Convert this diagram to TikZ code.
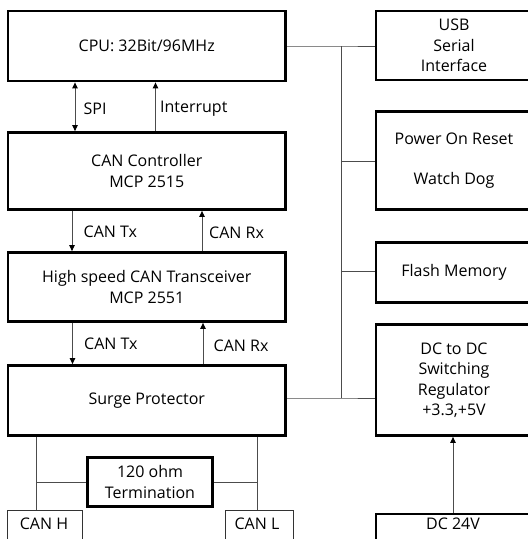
\documentclass[tikz,border=0pt]{standalone}
\usepackage{fontspec}
\setmainfont{Open Sans}
\usetikzlibrary{arrows.meta}
\begin{document}
\begin{tikzpicture}[x=1pt,y=-1pt,
  every node/.style={font=\fontsize{16}{20.5}\selectfont, text=black},
  thickbox/.style={draw=black, line width=2.8pt, align=center, inner sep=0pt},
  thinbox/.style={draw=black!80, line width=1pt, inner sep=0pt},
  txt/.style={inner sep=0pt, align=center},
  lbl/.style={inner sep=0pt, anchor=west},
  wire/.style={draw=black!70, line width=1pt},
  tip/.style={Triangle[length=6pt,width=5.5pt,color=black]},
  arr/.style={wire, -{Triangle[length=6pt,width=5.5pt,color=black]}},
  darr/.style={wire, {Triangle[length=6pt,width=5.5pt,color=black]}-{Triangle[length=6pt,width=5.5pt,color=black]}}
]
\useasboundingbox (0,0) rectangle (528,539);
\begin{scope}
\clip (0,0) rectangle (528,539);
% left column
\node[thickbox, minimum width=277.5, minimum height=70] (cpu) at (146.75,46) {CPU: 32Bit/96MHz};
\node[thickbox, minimum width=277.5, minimum height=77] (ctrl) at (146.75,171) {CAN Controller\\MCP 2515};
\node[thickbox, minimum width=277.5, minimum height=69] (xcvr) at (146.75,287) {High speed CAN Transceiver\\MCP 2551};
\node[thickbox, minimum width=277.5, minimum height=70] (surge) at (146.75,400.5) {Surge Protector};
\node[thickbox, minimum width=125, minimum height=49.5] (ohm) at (150,482) {120 ohm\\Termination};
\node[thinbox, minimum width=74.3, minimum height=40, anchor=north west] (canh) at (7.2,509.5) {};
\node[txt] (canht) at (44,524) {CAN H};
\node[thinbox, minimum width=68.5, minimum height=40, anchor=north west] (canl) at (224.5,509.5) {};
\node[txt] (canlt) at (257,524) {CAN L};
% right column
\node[thickbox, minimum width=156, minimum height=69] (usb) at (454,45.5) {USB\\Serial\\Interface};
\node[thickbox, minimum width=156, minimum height=98] (por) at (454,160.5) {Power On Reset\\[20pt]Watch Dog};
\node[thickbox, minimum width=156, minimum height=60] (flash) at (454,272.5) {Flash Memory};
\node[thickbox, minimum width=156, minimum height=111] (dc) at (454,380) {DC to DC\\Switching\\Regulator\\+3.3,+5V};
\node[thickbox, minimum width=156, minimum height=40, anchor=north] (dc24) at (454,512.5) {};
\node[txt] (dc24t) at (453,523.5) {DC 24V};
\end{scope}
% bus
\coordinate (b1) at (341,46);
\coordinate (b2) at (341,161);
\coordinate (b3) at (341,271);
\coordinate (b4) at (341,398);
\draw[wire] (b1) -- (b4);
\draw[wire] (cpu.east |- b1) -- (b1) -- (b1 -| usb.west);
\draw[wire] (b2) -- (b2 -| por.west);
\draw[wire] (b3) -- (b3 -| flash.west);
\draw[wire] (surge.east |- b4) -- (b4) -- (b4 -| dc.west);
% vertical arrows
\coordinate (xspi) at (75,0);
\coordinate (xint) at (155.5,0);
\coordinate (xtx) at (72,0);
\coordinate (xrx) at (202,0);
\coordinate (xtx2) at (72.5,0);
\coordinate (xrx2) at (203,0);
\coordinate (xdc) at (453,0);
\draw[darr] (cpu.south -| xspi) -- (ctrl.north -| xspi);
\draw[arr] (ctrl.north -| xint) -- (cpu.south -| xint);
\draw[arr] (ctrl.south -| xtx) -- (xcvr.north -| xtx);
\draw[arr] (xcvr.north -| xrx) -- (ctrl.south -| xrx);
\draw[arr] (xcvr.south -| xtx2) -- (surge.north -| xtx2);
\draw[arr] (surge.north -| xrx2) -- (xcvr.south -| xrx2);
\draw[arr] (dc24.north -| xdc) -- (dc.south -| xdc);
% labels
\node[lbl] (lspi) at (83.5,109) {SPI};
\node[lbl] (lint) at (160,109) {Interrupt};
\node[lbl] (ltx1) at (83.5,231.5) {CAN Tx};
\node[lbl] (lrx1) at (209,233) {CAN Rx};
\node[lbl] (ltx2) at (84,343.5) {CAN Tx};
\node[lbl] (lrx2) at (213.5,346) {CAN Rx};
% termination wiring
\coordinate (th) at (36,482);
\coordinate (tl) at (257.5,482);
\draw[wire] (surge.south -| th) -- (canh.north -| th);
\draw[wire] (surge.south -| tl) -- (canl.north -| tl);
\draw[wire] (th) -- (ohm.west);
\draw[wire] (ohm.east) -- (tl);
\end{tikzpicture}
\end{document}
